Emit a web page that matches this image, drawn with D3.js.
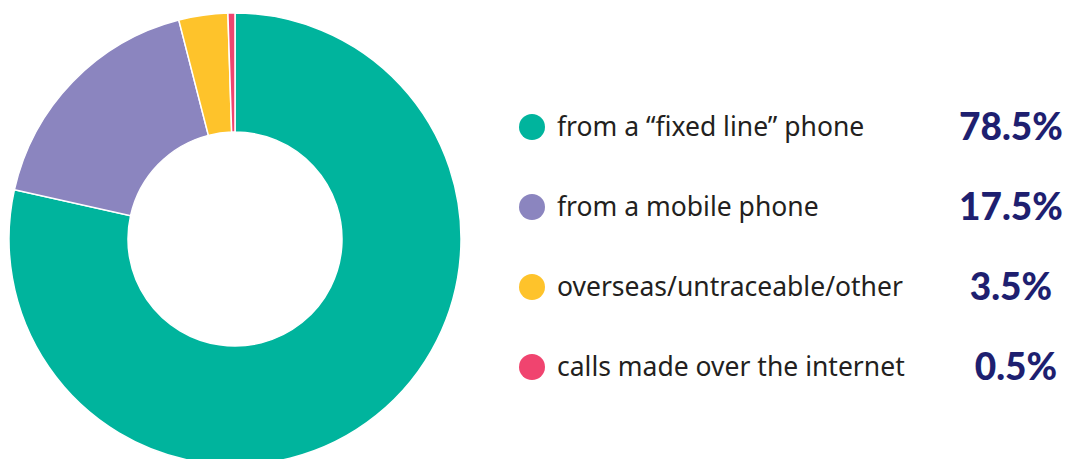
<!DOCTYPE html>
<html><head><meta charset="utf-8">
<script src="https://cdn.jsdelivr.net/npm/d3@7"></script>
<style>body{margin:0;background:#fff}svg{display:block}</style>
</head><body>
<svg id="c" width="1066" height="459"></svg>
<script>
const categories = ["from a “fixed line” phone","from a mobile phone","overseas/untraceable/other","calls made over the internet"];
const values = [78.5, 17.5, 3.5, 0.5];
const valueLabels = ["78.5%","17.5%","3.5%","0.5%"];
const colors = ["#00b49d","#8b85bf","#fec32b","#f0446f"];

const svg = d3.select("#c");
const cx = 235, cy = 239, R = 226, r = 107;
const pie = d3.pie().sort(null).value(d => d)(values);
const arc = d3.arc().innerRadius(r).outerRadius(R);
svg.append("g").attr("transform", `translate(${cx},${cy})`)
  .selectAll("path").data(pie).join("path")
  .attr("d", arc).attr("fill", (d,i) => colors[i])
  .attr("stroke", "#fff").attr("stroke-width", 1.5);

const y = d3.scalePoint().domain(categories).range([127, 367]);
const lg = svg.append("g").selectAll("g").data(categories).join("g")
  .attr("transform", d => `translate(0,${y(d)})`);
lg.append("circle").attr("cx", 532).attr("r", 13).attr("fill", (d,i) => colors[i]);
lg.append("text").attr("x", 557).attr("dy", "0.35em")
  .attr("font-family", "'Noto Sans', sans-serif").attr("font-size", 26.5)
  .attr("fill", "#231f20").text(d => d);
lg.append("text").attr("x", (d,i) => i === 3 ? 1016 : 1011).attr("dy", "0.36em").attr("text-anchor", "middle")
  .attr("font-family", "Lato, sans-serif").attr("font-weight", 900).attr("font-size", 37)
  .attr("fill", "#1e1f70").text((d,i) => valueLabels[i]);
</script>
</body></html>
